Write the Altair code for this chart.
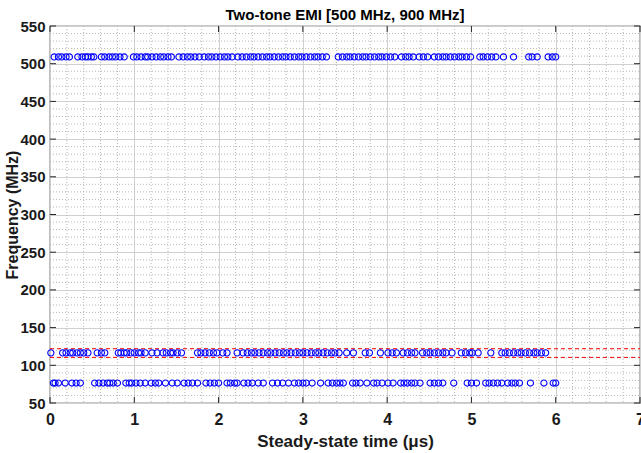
import altair as alt
import pandas as pd

# ---- data ----
top_times = [0.05, 0.10, 0.14, 0.19, 0.23,
             0.33, 0.38, 0.42, 0.45, 0.49, 0.52,
             0.61, 0.65, 0.70, 0.74, 0.78, 0.83, 0.88,
             0.99, 1.03, 1.08, 1.13, 1.16, 1.21, 1.26, 1.31, 1.35, 1.40, 1.44,
             1.53, 1.58, 1.63, 1.67, 1.72, 1.77,
             1.83, 1.88, 1.92, 1.97, 2.02, 2.07, 2.11, 2.16,
             2.23, 2.28, 2.33, 2.38, 2.42, 2.47, 2.52, 2.57, 2.61, 2.66, 2.71, 2.76, 2.80, 2.85, 2.90, 2.95,
             2.99, 3.04, 3.09, 3.14, 3.18, 3.23, 3.28,
             3.42, 3.47, 3.52, 3.56, 3.61, 3.66, 3.71, 3.75, 3.80, 3.85, 3.90, 3.94, 3.99, 4.04, 4.09,
             4.17, 4.22, 4.26, 4.31,
             4.38, 4.43, 4.48,
             4.56, 4.61, 4.66, 4.70, 4.75, 4.80, 4.85, 4.89, 4.94, 4.99,
             5.10, 5.14, 5.19, 5.24, 5.29, 5.38, 5.50,
             5.68, 5.72, 5.78,
             5.91, 5.96, 6.00]

mid_times = [0.01, 0.15, 0.19, 0.24, 0.27, 0.32, 0.36, 0.40, 0.45, 0.56, 0.61, 0.65,
             0.81, 0.84, 0.88, 0.91, 0.96, 1.00, 1.05, 1.08, 1.13, 1.21, 1.27,
             1.34, 1.38, 1.43, 1.46, 1.51, 1.56, 1.75, 1.79, 1.84, 1.89, 1.94, 1.98,
             2.05, 2.10, 2.22, 2.29, 2.34, 2.39, 2.43, 2.48, 2.53, 2.58, 2.62, 2.67,
             2.72, 2.77, 2.81, 2.86, 2.91, 2.96, 3.00, 3.05, 3.10, 3.15, 3.19, 3.24,
             3.29, 3.34, 3.38, 3.43, 3.52, 3.60, 3.74, 3.79, 3.92, 4.01, 4.06, 4.11,
             4.19, 4.24, 4.29, 4.33, 4.42, 4.47, 4.51, 4.56, 4.61, 4.66, 4.70, 4.77,
             4.88, 4.93, 4.98, 5.01, 5.08, 5.23, 5.36, 5.40, 5.45, 5.50, 5.55, 5.59,
             5.64, 5.69, 5.74, 5.78, 5.83, 5.88]

low_times = [0.04, 0.06, 0.10, 0.18, 0.26, 0.31, 0.36, 0.53, 0.58, 0.63, 0.68, 0.71,
             0.75, 0.80, 0.90, 0.94, 0.97, 1.02, 1.07, 1.13, 1.20, 1.25, 1.29, 1.37,
             1.45, 1.51, 1.59, 1.64, 1.69, 1.75, 1.85, 1.90, 1.95, 2.00, 2.10, 2.14,
             2.19, 2.22, 2.30, 2.35, 2.40, 2.47, 2.53, 2.64, 2.70, 2.76, 2.83, 2.90,
             2.95, 3.00, 3.04, 3.11, 3.21, 3.30, 3.35, 3.40, 3.44, 3.48, 3.59, 3.63,
             3.68, 3.76, 3.84, 3.88, 3.94, 4.01, 4.07, 4.16, 4.20, 4.24, 4.29, 4.33,
             4.39, 4.51, 4.56, 4.61, 4.66, 4.79, 4.95, 5.00, 5.06, 5.17, 5.21, 5.26,
             5.31, 5.36, 5.43, 5.48, 5.52, 5.57, 5.70, 5.86, 5.97, 6.00]

row_freqs = [509, 116.5, 76.5]        # MHz
band_edges = [122, 110.5]             # red dashed lines, MHz
band_span = [0, 7]                    # time span of the dashed lines

x_major = list(range(0, 8))
y_major = list(range(50, 551, 50))
x_minor = [round(i * 0.2, 1) for i in range(36) if i % 5 != 0]
y_minor = [v for v in range(50, 551, 10) if v % 50 != 0]

# ---- layout / style ----
W, H = 590, 377
FONT = "Liberation Sans Narrow, Liberation Sans, Arial, sans-serif"
TXT = "#1a1a1a"

pts = pd.DataFrame(
    [{"t": t, "f": row_freqs[0]} for t in top_times]
    + [{"t": t, "f": row_freqs[1]} for t in mid_times]
    + [{"t": t, "f": row_freqs[2]} for t in low_times]
)

x_axis = alt.Axis(
    values=x_major, grid=True, ticks=False, domain=False,
    gridColor="#d0d0d0", gridWidth=1,
    labelFlush=False, labelOverlap=False, format="d",
    labelFont=FONT, labelFontSize=16, labelFontWeight="bold", labelColor=TXT,
    labelPadding=8,
    title="Steady-state time (μs)", titleFont=FONT, titleFontSize=17,
    titleFontWeight="bold", titleColor=TXT, titlePadding=6,
)
y_axis = alt.Axis(
    values=y_major, grid=True, ticks=False, domain=False,
    gridColor="#d0d0d0", gridWidth=1,
    labelFlush=False, labelOverlap=False, format="d",
    labelFont=FONT, labelFontSize=15, labelFontWeight="bold", labelColor=TXT,
    labelPadding=5,
    title="Frequency (MHz)", titleFont=FONT, titleFontSize=16,
    titleFontWeight="bold", titleColor=TXT, titlePadding=-1,
)

xs = alt.Scale(domain=[0, 7], nice=False, zero=False)
ys = alt.Scale(domain=[50, 550], nice=False, zero=False)

GRID_MINOR = "#b8b8b8"
xg = alt.Chart(pd.DataFrame({"t": x_minor})).mark_rule(
    color=GRID_MINOR, strokeDash=[1, 2], strokeWidth=1
).encode(x=alt.X("t:Q", scale=xs, axis=x_axis), y=alt.value(0), y2=alt.value(H))
yg = alt.Chart(pd.DataFrame({"f": y_minor})).mark_rule(
    color=GRID_MINOR, strokeDash=[1, 2], strokeWidth=1
).encode(y=alt.Y("f:Q", scale=ys, axis=y_axis), x=alt.value(0), x2=alt.value(W))

points = alt.Chart(pts).mark_point(
    shape="circle", filled=False, size=38, strokeWidth=1.1, color="#0000ff", opacity=1
).encode(
    x=alt.X("t:Q", scale=xs, axis=x_axis),
    y=alt.Y("f:Q", scale=ys, axis=y_axis),
)

band_df = pd.DataFrame({"f": band_edges, "t": [band_span[0]] * 2, "t2": [band_span[1]] * 2})
band = alt.Chart(band_df).mark_rule(color="#ff0000", strokeDash=[4, 3], strokeWidth=1).encode(
    x=alt.X("t:Q", scale=xs, axis=x_axis), x2="t2:Q", y=alt.Y("f:Q", scale=ys, axis=y_axis)
)

xt = pd.DataFrame({"t": x_major})
yt = pd.DataFrame({"f": y_major})
TICK = "#262626"
xt_bottom = alt.Chart(xt).mark_rule(color=TICK, strokeWidth=1).encode(
    x=alt.X("t:Q", scale=xs, axis=x_axis), y=alt.value(H), y2=alt.value(H - 6))
xt_top = alt.Chart(xt).mark_rule(color=TICK, strokeWidth=1).encode(
    x=alt.X("t:Q", scale=xs, axis=x_axis), y=alt.value(0), y2=alt.value(6))
yt_left = alt.Chart(yt).mark_rule(color=TICK, strokeWidth=1).encode(
    y=alt.Y("f:Q", scale=ys, axis=y_axis), x=alt.value(0), x2=alt.value(6))
yt_right = alt.Chart(yt).mark_rule(color=TICK, strokeWidth=1).encode(
    y=alt.Y("f:Q", scale=ys, axis=y_axis), x=alt.value(W - 6), x2=alt.value(W))

chart = alt.layer(xg, yg, band, points, xt_bottom, xt_top, yt_left, yt_right).properties(
    width=W, height=H,
    title=alt.Title("Two-tone EMI [500 MHz, 900 MHz]", font=FONT, fontSize=15,
                    fontWeight="bold", color="#000000", offset=-4, anchor="middle"),
    autosize=alt.AutoSizeParams(type="none"),
    padding={"left": 50, "top": 26, "right": 1, "bottom": 50},
).configure_view(stroke="#262626", strokeWidth=1.2)

chart.save("out.html", embed_options={"renderer": "svg", "actions": False})
